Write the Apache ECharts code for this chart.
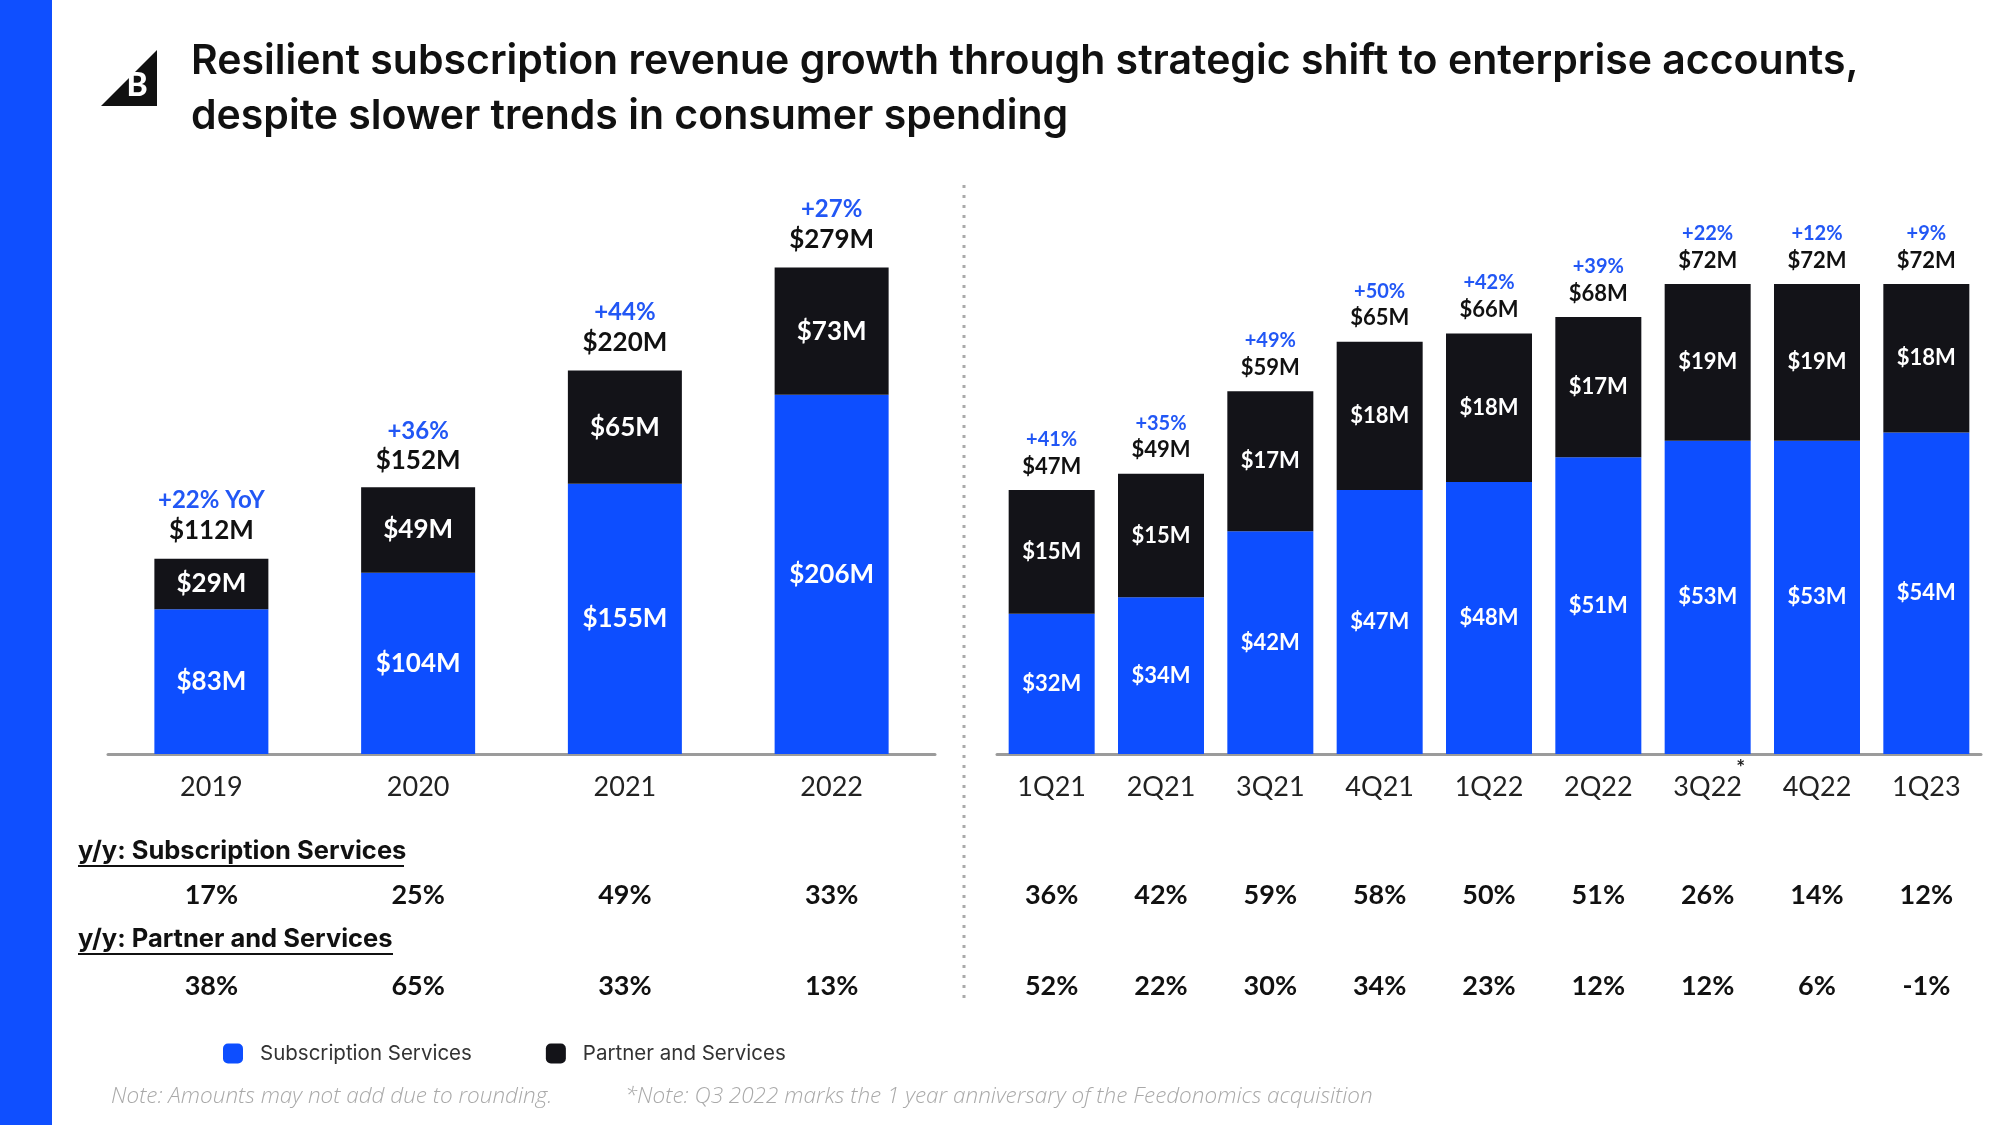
<!DOCTYPE html>
<html><head><meta charset="utf-8">
<script src="https://cdn.jsdelivr.net/npm/echarts@6/dist/echarts.min.js"></script>
<style>html,body{margin:0;padding:0;background:#fff}#c{width:2000px;height:1125px}</style>
</head><body><div id="c"></div>
<script>
const years = ['2019','2020','2021','2022'];
const yearSub = [83,104,155,206];
const yearPartner = [29,49,65,73];
const yearTotal = [112,152,220,279];
const yearGrowth = ['+22% YoY','+36%','+44%','+27%'];
const yearSubYoY = ['17%','25%','49%','33%'];
const yearPartnerYoY = ['38%','65%','33%','13%'];

const quarters = ['1Q21','2Q21','3Q21','4Q21','1Q22','2Q22','3Q22','4Q22','1Q23'];
const quarterMarks = ['','','','','','','*','',''];
const qSub = [32,34,42,47,48,51,53,53,54];
const qPartner = [15,15,17,18,18,17,19,19,18];
const qTotal = [47,49,59,65,66,68,72,72,72];
const qGrowth = ['+41%','+35%','+49%','+50%','+42%','+39%','+22%','+12%','+9%'];
const qSubYoY = ['36%','42%','59%','58%','50%','51%','26%','14%','12%'];
const qPartnerYoY = ['52%','22%','30%','34%','23%','12%','12%','6%','-1%'];

const FONT = 'Lato';
const WIDE = 'Inter';
const BLUE = '#0d4eff';
const BLACK = '#131318';
const PCT = '#2257f5';
const money = p => '$' + p.value + 'M';

const chart = echarts.init(document.getElementById('c'));

function rowAxis(gridIndex, data, offset) {
  return {
    type: 'category', gridIndex, data, position: 'bottom', offset,
    axisLine: {show: false}, axisTick: {show: false},
    axisLabel: {margin: 0, fontFamily: FONT, fontWeight: 'bold', fontSize: 27, color: '#111', interval: 0}
  };
}

function stackSeries(name, data, color, xi, yi, fs) {
  return {
    name, type: 'bar', stack: 'g' + xi, data, xAxisIndex: xi, yAxisIndex: yi,
    barWidth: xi === 0 ? 114 : 86, clip: true,
    itemStyle: {color},
    label: {show: true, position: 'inside', formatter: money, color: '#fff',
      fontFamily: FONT, fontWeight: 'bold', fontSize: fs},
    emphasis: {disabled: true}
  };
}

function totalSeries(data, growth, xi, yi, fsP, fsT, lh, dist) {
  return {
    type: 'bar', data, xAxisIndex: xi, yAxisIndex: yi, barGap: '-100%',
    barWidth: xi === 0 ? 114 : 86, silent: true, z: 1,
    itemStyle: {color: 'rgba(0,0,0,0)'},
    label: {show: true, position: 'top', distance: dist,
      formatter: p => '{p|' + growth[p.dataIndex] + '}\n{t|$' + p.value + 'M}',
      rich: {
        p: {fontFamily: FONT, fontWeight: 'bold', fontSize: fsP, color: PCT, lineHeight: lh},
        t: {fontFamily: FONT, fontWeight: 'bold', fontSize: fsT, color: '#111', lineHeight: lh}
      }},
    emphasis: {disabled: true}
  };
}

const option = {
  backgroundColor: '#fff',
  animation: false,
  grid: [
    {left: 108, right: 1065, top: 231, bottom: 371},
    {left: 997, right: 19, top: 218, bottom: 371}
  ],
  xAxis: [
    {type: 'category', gridIndex: 0, data: years,
      axisLine: {lineStyle: {color: '#9b9b9b', width: 3}}, axisTick: {show: false},
      axisLabel: {margin: 20, fontFamily: FONT, fontSize: 27, color: '#222'}},
    {type: 'category', gridIndex: 1, data: quarters,
      axisLine: {lineStyle: {color: '#9b9b9b', width: 3}}, axisTick: {show: false},
      axisLabel: {margin: 20, fontFamily: FONT, fontSize: 27, color: '#222', interval: 0}},
    rowAxis(0, yearSubYoY, 128),
    rowAxis(0, yearPartnerYoY, 219),
    rowAxis(1, qSubYoY, 128),
    rowAxis(1, qPartnerYoY, 219),
    {type: 'category', gridIndex: 1, data: quarterMarks, position: 'bottom', offset: 0,
      axisLine: {show: false}, axisTick: {show: false},
      axisLabel: {margin: 4, fontFamily: FONT, fontWeight: 'bold', fontSize: 21, color: '#222', interval: 0, padding: [0, 0, 0, 66]}}
  ],
  yAxis: [
    {type: 'value', gridIndex: 0, min: 0, max: 300, show: false},
    {type: 'value', gridIndex: 1, min: 15, max: 80, show: false}
  ],
  legend: {
    data: ['Subscription Services', 'Partner and Services'],
    left: 218, top: 1038, itemWidth: 20, itemHeight: 20, icon: 'roundRect', itemGap: 74,
    textStyle: {fontFamily: WIDE, fontSize: 20.5, color: '#333', padding: [0, 0, 0, 12]}
  },
  series: [
    stackSeries('Subscription Services', yearSub, BLUE, 0, 0, 26),
    stackSeries('Partner and Services', yearPartner, BLACK, 0, 0, 26),
    totalSeries(yearTotal, yearGrowth, 0, 0, 24, 26, 30, 13),
    stackSeries('Subscription Services', qSub, BLUE, 1, 1, 22),
    stackSeries('Partner and Services', qPartner, BLACK, 1, 1, 22),
    totalSeries(qTotal, qGrowth, 1, 1, 20, 22, 27, 10)
  ],
  graphic: [
    {type: 'rect', shape: {x: 0, y: 0, width: 52, height: 1125}, style: {fill: '#0f4fff'}},
    {type: 'polygon', shape: {points: [[157, 50], [157, 106], [101, 106]]}, style: {fill: '#111'}},
    {type: 'text', x: 137, y: 86, style: {text: 'B', fill: '#fff', font: '900 32px Lato', align: 'center', verticalAlign: 'middle'}},
    {type: 'text', x: 191, y: 62, style: {text: 'Resilient subscription revenue growth through strategic shift to enterprise accounts,', fill: '#111', font: '600 41px Inter', verticalAlign: 'middle'}},
    {type: 'text', x: 191, y: 117, style: {text: 'despite slower trends in consumer spending', fill: '#111', font: '600 41px Inter', verticalAlign: 'middle'}},
    {type: 'line', shape: {x1: 964, y1: 185, x2: 964, y2: 1001}, style: {stroke: '#aaa', lineWidth: 3, lineDash: [3, 7]}},
    {type: 'text', x: 78, y: 851, style: {text: 'y/y: Subscription Services', fill: '#111', font: 'bold 25.5px Inter', verticalAlign: 'middle'}},
    {type: 'line', shape: {x1: 78, y1: 866, x2: 404, y2: 866}, style: {stroke: '#111', lineWidth: 2}},
    {type: 'text', x: 78, y: 939, style: {text: 'y/y: Partner and Services', fill: '#111', font: 'bold 25.5px Inter', verticalAlign: 'middle'}},
    {type: 'line', shape: {x1: 78, y1: 954, x2: 393, y2: 954}, style: {stroke: '#111', lineWidth: 2}},
    {type: 'text', x: 111, y: 1097, style: {text: 'Note: Amounts may not add due to rounding.', fill: '#a9a9a9', font: 'italic 300 22.5px "Open Sans"', verticalAlign: 'middle'}},
    {type: 'text', x: 625, y: 1097, style: {text: '*Note: Q3 2022 marks the 1 year anniversary of the Feedonomics acquisition', fill: '#a9a9a9', font: 'italic 300 22.5px "Open Sans"', verticalAlign: 'middle'}}
  ]
};
chart.setOption(option);
</script></body></html>
